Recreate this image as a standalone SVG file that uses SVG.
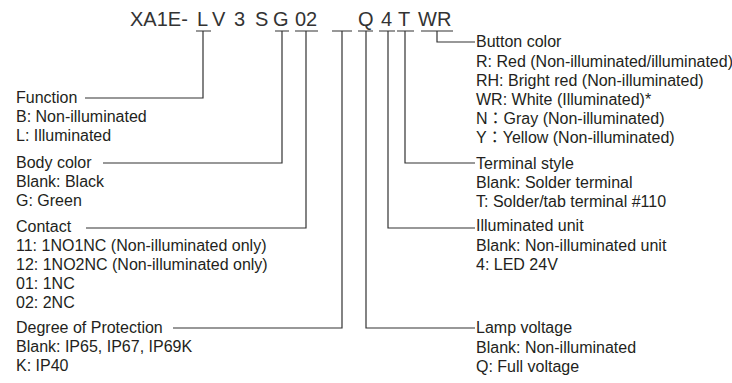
<svg xmlns="http://www.w3.org/2000/svg" width="732" height="383" viewBox="0 0 732 383">
<style>
text{font-family:"Liberation Sans",Arial,"Noto Sans CJK JP",sans-serif;fill:#231f20}
.t{font-size:16px}
.code{font-size:20px;fill:#333}
.ln{fill:none;stroke:#333;stroke-width:1.2}
</style>
<rect width="732" height="383" fill="#fff"/>
<g id="code">
<text class="code" x="130" y="26">XA1E-</text>
<text class="code" x="197" y="26">L</text>
<text class="code" x="212" y="26">V</text>
<text class="code" x="234" y="26">3</text>
<text class="code" x="255" y="26">S</text>
<text class="code" x="273" y="26">G</text>
<text class="code" x="295" y="26">02</text>
<text class="code" x="358" y="26">Q</text>
<text class="code" x="381" y="26">4</text>
<text class="code" x="398" y="26">T</text>
<text class="code" x="418" y="26">WR</text>
</g>
<g id="connectors" class="ln">
<path d="M196,31H211M275,31H289M295,31H318M332,31H352M358,31H373M379,31H395M397,31H414M421,31H453"/>
<path d="M203,31V98H85"/>
<path d="M282,31V163H103"/>
<path d="M306,31V228H86"/>
<path d="M342,31V328H173"/>
<path d="M366,31V328H475"/>
<path d="M388,31V228H475"/>
<path d="M405,31V163H475"/>
<path d="M437,31V42H475"/>
</g>
<g id="function" class="t">
<text x="16" y="103">Function</text>
<text x="16" y="122">B: Non-illuminated</text>
<text x="16" y="141">L: Illuminated</text>
</g>
<g id="body-color" class="t">
<text x="16" y="168">Body color</text>
<text x="16" y="187">Blank: Black</text>
<text x="16" y="206">G: Green</text>
</g>
<g id="contact" class="t">
<text x="16" y="232">Contact</text>
<text x="16" y="251">11: 1NO1NC (Non-illuminated only)</text>
<text x="16" y="270">12: 1NO2NC (Non-illuminated only)</text>
<text x="16" y="289">01: 1NC</text>
<text x="16" y="308">02: 2NC</text>
</g>
<g id="protection" class="t">
<text x="16" y="333">Degree of Protection</text>
<text x="16" y="352">Blank: IP65, IP67, IP69K</text>
<text x="16" y="371">K: IP40</text>
</g>
<g id="button-color" class="t">
<text x="476" y="47">Button color</text>
<text x="476" y="67">R: Red (Non-illuminated/illuminated)</text>
<text x="476" y="86">RH: Bright red (Non-illuminated)</text>
<text x="476" y="105">WR: White (Illuminated)*</text>
<text x="476" y="124">N：Gray (Non-illuminated)</text>
<text x="476" y="143">Y：Yellow (Non-illuminated)</text>
</g>
<g id="terminal-style" class="t">
<text x="476" y="169">Terminal style</text>
<text x="476" y="188">Blank: Solder terminal</text>
<text x="476" y="207">T: Solder/tab terminal #110</text>
</g>
<g id="illuminated-unit" class="t">
<text x="476" y="231">Illuminated unit</text>
<text x="476" y="251">Blank: Non-illuminated unit</text>
<text x="476" y="270">4: LED 24V</text>
</g>
<g id="lamp-voltage" class="t">
<text x="476" y="333">Lamp voltage</text>
<text x="476" y="353">Blank: Non-illuminated</text>
<text x="476" y="372">Q: Full voltage</text>
</g>
</svg>
